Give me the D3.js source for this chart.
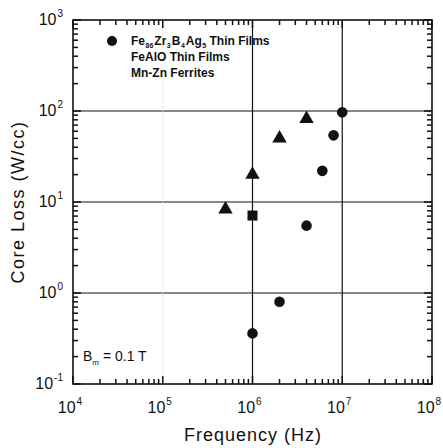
<!DOCTYPE html>
<html>
<head>
<meta charset="utf-8">
<script src="https://cdn.jsdelivr.net/npm/d3@7"></script>
<style>
  body { margin: 0; background: #fff; }
  svg { display: block; }
  text { font-family: "Liberation Sans", Arial, sans-serif; fill: #111; }
</style>
</head>
<body>
<svg></svg>
<script>
// data
const fezrbFreq = [1e6, 2e6, 4e6, 6e6, 8e6, 1e7];
const fezrbLoss = [0.36, 0.8, 5.5, 22, 54, 97];
const fealoFreq = [5e5, 1e6, 2e6, 4e6];
const fealoLoss = [8.3, 20, 50, 82];
const mnznFreq = [1e6];
const mnznLoss = [7.1];
const xTicks = [1e4, 1e5, 1e6, 1e7, 1e8];
const yTicks = [1e-1, 1e0, 1e1, 1e2, 1e3];
const legendLabels = ["Fe", "FeAlO Thin Films", "Mn-Zn Ferrites"];

const svg = d3.select('svg').attr('width', 443).attr('height', 448);
const margin = { top: 20, right: 11, bottom: 64, left: 73 };
const width = 443 - margin.left - margin.right;
const height = 448 - margin.top - margin.bottom;
const g = svg.append('g').attr('transform', `translate(${margin.left},${margin.top})`);

const x = d3.scaleLog().domain([1e4, 1e8]).range([0, width]);
const y = d3.scaleLog().domain([1e-1, 1e3]).range([height, 0]);

const minorX = [];
for (let d = 1e4; d < 1e8; d *= 10) for (let k = 2; k <= 9; k++) minorX.push(d * k);
const minorY = [];
for (let d = 1e-1; d < 1e3; d *= 10) for (let k = 2; k <= 9; k++) minorY.push(d * k);

// grid lines
g.append('g').selectAll('line').data(yTicks.slice(1, -1)).enter().append('line')
  .attr('x1', 0).attr('x2', width)
  .attr('y1', d => y(d)).attr('y2', d => y(d))
  .attr('stroke', '#111').attr('stroke-width', 1.2);
g.append('g').selectAll('line').data(xTicks.slice(1, -1)).enter().append('line')
  .attr('y1', 0).attr('y2', height)
  .attr('x1', d => x(d)).attr('x2', d => x(d))
  .attr('stroke', d => d === 1e5 ? '#e4e4e4' : '#111')
  .attr('stroke-width', d => d === 1e5 ? 0.6 : 1.2);

// frame
g.append('rect').attr('width', width).attr('height', height)
  .attr('fill', 'none').attr('stroke', '#111').attr('stroke-width', 1.6);

// ticks pointing inward on all four sides
function xTickMarks(vals, len) {
  const t = g.append('g').attr('stroke', '#111').attr('stroke-width', 1.5);
  t.selectAll('line.b').data(vals).enter().append('line').attr('class', 'b')
    .attr('x1', d => x(d)).attr('x2', d => x(d)).attr('y1', height).attr('y2', height - len);
  t.selectAll('line.t').data(vals).enter().append('line').attr('class', 't')
    .attr('x1', d => x(d)).attr('x2', d => x(d)).attr('y1', 0).attr('y2', len);
}
function yTickMarks(vals, len) {
  const t = g.append('g').attr('stroke', '#111').attr('stroke-width', 1.5);
  t.selectAll('line.l').data(vals).enter().append('line').attr('class', 'l')
    .attr('y1', d => y(d)).attr('y2', d => y(d)).attr('x1', 0).attr('x2', len);
  t.selectAll('line.r').data(vals).enter().append('line').attr('class', 'r')
    .attr('y1', d => y(d)).attr('y2', d => y(d)).attr('x1', width).attr('x2', width - len);
}
xTickMarks(minorX, 5);
xTickMarks(xTicks, 8);
yTickMarks(minorY, 5);
yTickMarks(yTicks, 8);

// tick labels 10^n
const xl = g.append('g').selectAll('text').data(xTicks).enter().append('text')
  .attr('x', d => x(d) - 3).attr('y', height + 29)
  .attr('text-anchor', 'middle').style('font-size', '16px');
xl.append('tspan').text('10');
xl.append('tspan').attr('dy', -8).attr('dx', 1).style('font-size', '10px').text(d => Math.round(Math.log10(d)));

const yl = g.append('g').selectAll('text').data(yTicks).enter().append('text')
  .attr('x', -10).attr('y', d => y(d) + 5)
  .attr('text-anchor', 'end').style('font-size', '16px');
yl.append('tspan').text('10');
yl.append('tspan').attr('dy', -8).attr('dx', 1).style('font-size', '10px').text(d => Math.round(Math.log10(d)));

// axis titles
svg.append('text').attr('x', 253).attr('y', 441).attr('text-anchor', 'middle')
  .style('font-size', '18px').style('letter-spacing', '1px').text('Frequency  (Hz)');
svg.append('text').attr('transform', 'translate(24,202) rotate(-90)')
  .attr('text-anchor', 'middle').style('font-size', '18px').style('letter-spacing', '1.5px')
  .text('Core Loss  (W/cc)');

// markers
g.append('g').selectAll('circle').data(fezrbFreq).enter().append('circle')
  .attr('cx', d => x(d)).attr('cy', (d, i) => y(fezrbLoss[i])).attr('r', 5.3).attr('fill', '#111');
const tri = d3.symbol().type(d3.symbolTriangle).size(90);
g.append('g').selectAll('path').data(fealoFreq).enter().append('path')
  .attr('d', tri).attr('fill', '#111')
  .attr('transform', (d, i) => `translate(${x(d)},${y(fealoLoss[i])})`);
g.append('g').selectAll('rect').data(mnznFreq).enter().append('rect')
  .attr('x', d => x(d) - 5).attr('y', (d, i) => y(mnznLoss[i]) - 5)
  .attr('width', 10).attr('height', 10).attr('fill', '#111');

// legend
const lg = svg.append('g').style('font-size', '12px').style('font-weight', 'bold');
lg.append('circle').attr('cx', 112).attr('cy', 41).attr('r', 5).attr('fill', '#111');
const l1 = lg.append('text').attr('x', 131).attr('y', 45);
const parts = [['Fe', '86'], ['Zr', '3'], ['B', '4'], ['Ag', '5']];
parts.forEach((p, i) => {
  l1.append('tspan').attr('dy', i === 0 ? 0 : -3).attr('dx', i === 0 ? 0 : 1).text(p[0]);
  l1.append('tspan').attr('dy', 3).attr('dx', 0.5).style('font-size', '7px').text(p[1]);
});
l1.append('tspan').attr('dy', -3).text(' Thin Films');
lg.append('text').attr('x', 131).attr('y', 61).text(legendLabels[1]);
lg.append('text').attr('x', 131).attr('y', 77).text(legendLabels[2]);

// annotation
const ann = svg.append('text').attr('x', 83).attr('y', 361).style('font-size', '14px');
ann.append('tspan').text('B');
ann.append('tspan').attr('dy', 4).style('font-size', '8px').text('m');
ann.append('tspan').attr('dy', -4).text(' = 0.1 T');
</script>
</body>
</html>
